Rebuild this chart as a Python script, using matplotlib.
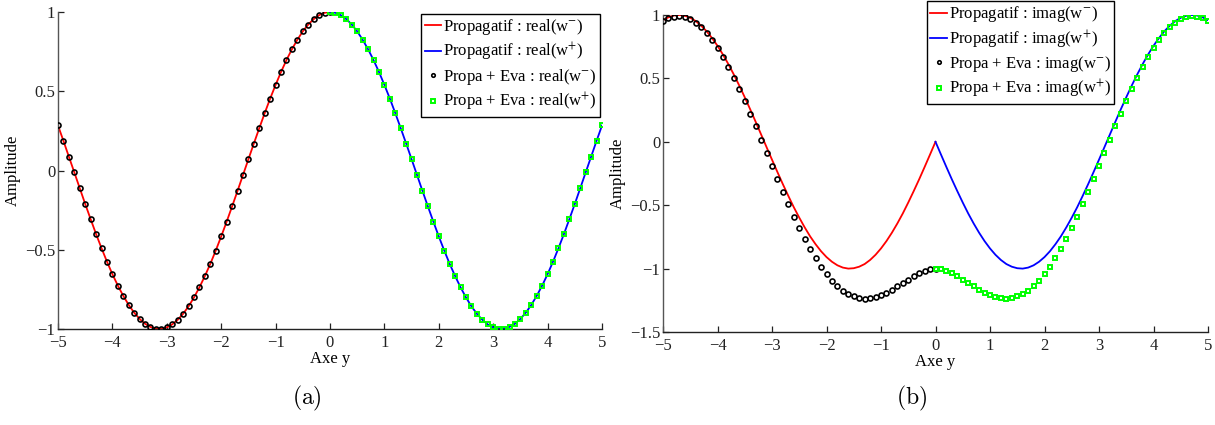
import numpy as np
import matplotlib
matplotlib.use("Agg")
import matplotlib.pyplot as plt

# ---------------- data ----------------
y_neg = np.linspace(-5, 0, 51)
y_pos = np.linspace(0, 5, 51)

# Panel (a): real parts
real_prop_neg = [0.284, 0.187, 0.087, -0.012, -0.112, -0.211, -0.307, -0.401, -0.490, -0.575,
                 -0.654, -0.726, -0.791, -0.848, -0.897, -0.936, -0.967, -0.987, -0.998, -0.999,
                 -0.990, -0.971, -0.942, -0.904, -0.857, -0.801, -0.737, -0.666, -0.589, -0.505,
                 -0.416, -0.323, -0.227, -0.129, -0.029, 0.071, 0.170, 0.267, 0.362, 0.454,
                 0.540, 0.622, 0.697, 0.765, 0.825, 0.878, 0.921, 0.955, 0.980, 0.995, 1.000]
real_prop_pos = [1.000, 0.995, 0.980, 0.955, 0.921, 0.878, 0.825, 0.765, 0.697, 0.622,
                 0.540, 0.454, 0.362, 0.267, 0.170, 0.071, -0.029, -0.129, -0.227, -0.323,
                 -0.416, -0.505, -0.589, -0.666, -0.737, -0.801, -0.857, -0.904, -0.942, -0.971,
                 -0.990, -0.999, -0.998, -0.987, -0.967, -0.936, -0.897, -0.848, -0.791, -0.726,
                 -0.654, -0.575, -0.490, -0.401, -0.307, -0.211, -0.112, -0.012, 0.087, 0.187, 0.284]
real_eva_neg = list(real_prop_neg)
real_eva_pos = list(real_prop_pos)

# Panel (b): imaginary parts
imag_prop_neg = [0.959, 0.982, 0.996, 1.000, 0.994, 0.978, 0.952, 0.916, 0.872, 0.818,
                 0.757, 0.688, 0.612, 0.530, 0.443, 0.351, 0.256, 0.158, 0.058, -0.042,
                 -0.141, -0.239, -0.335, -0.427, -0.516, -0.598, -0.675, -0.746, -0.808, -0.863,
                 -0.909, -0.946, -0.974, -0.992, -1.000, -0.997, -0.985, -0.964, -0.932, -0.891,
                 -0.841, -0.783, -0.717, -0.644, -0.565, -0.479, -0.389, -0.296, -0.199, -0.100, 0.000]
imag_prop_pos = [0.000, -0.100, -0.199, -0.296, -0.389, -0.479, -0.565, -0.644, -0.717, -0.783,
                 -0.841, -0.891, -0.932, -0.964, -0.985, -0.997, -1.000, -0.992, -0.974, -0.946,
                 -0.909, -0.863, -0.808, -0.746, -0.675, -0.598, -0.516, -0.427, -0.335, -0.239,
                 -0.141, -0.042, 0.058, 0.158, 0.256, 0.351, 0.443, 0.530, 0.612, 0.688,
                 0.757, 0.818, 0.872, 0.916, 0.952, 0.978, 0.994, 1.000, 0.996, 0.982, 0.959]
imag_eva_neg = [0.952, 0.975, 0.988, 0.991, 0.984, 0.967, 0.940, 0.902, 0.857, 0.801,
                0.739, 0.668, 0.590, 0.505, 0.416, 0.321, 0.223, 0.121, 0.017, -0.087,
                -0.191, -0.294, -0.396, -0.494, -0.590, -0.680, -0.766, -0.846, -0.919, -0.985,
                -1.044, -1.096, -1.139, -1.175, -1.202, -1.220, -1.232, -1.237, -1.233, -1.224,
                -1.209, -1.190, -1.166, -1.141, -1.114, -1.086, -1.059, -1.037, -1.018, -1.005, -1.000]
imag_eva_pos = [-1.000, -1.005, -1.018, -1.037, -1.059, -1.086, -1.114, -1.141, -1.166, -1.190,
                -1.209, -1.224, -1.233, -1.237, -1.232, -1.220, -1.202, -1.175, -1.139, -1.096,
                -1.044, -0.985, -0.919, -0.846, -0.766, -0.680, -0.590, -0.494, -0.396, -0.294,
                -0.191, -0.087, 0.017, 0.121, 0.223, 0.321, 0.416, 0.505, 0.590, 0.668,
                0.739, 0.801, 0.857, 0.902, 0.940, 0.967, 0.984, 0.991, 0.988, 0.975, 0.952]

xticks = [-5, -4, -3, -2, -1, 0, 1, 2, 3, 4, 5]
yticks_a = [-1, -0.5, 0, 0.5, 1]
yticks_b = [-1.5, -1, -0.5, 0, 0.5, 1]

labels_a = ["Propagatif : real(w$^{-}$)", "Propagatif : real(w$^{+}$)",
            "Propa + Eva : real(w$^{-}$)", "Propa + Eva : real(w$^{+}$)"]
labels_b = ["Propagatif : imag(w$^{-}$)", "Propagatif : imag(w$^{+}$)",
            "Propa + Eva : imag(w$^{-}$)", "Propa + Eva : imag(w$^{+}$)"]

# ---------------- style ----------------
plt.rcParams['font.family'] = ['Liberation Serif', 'DejaVu Serif']
plt.rcParams['mathtext.fontset'] = 'stix'
plt.rcParams['font.size'] = 11.5

fig = plt.figure(figsize=(12.15, 4.25), dpi=100)
W, H = 1215, 425

def make_axes(left, top, right, bottom):
    return fig.add_axes([left / W, 1 - bottom / H, (right - left) / W, (bottom - top) / H])

ax_a = make_axes(58, 12, 602, 329)
ax_b = make_axes(663, 15, 1208, 332)


def style(ax, yticks, ylim):
    ax.set_xlim(-5, 5)
    ax.set_ylim(*ylim)
    ax.set_xticks(xticks)
    ax.set_yticks(yticks)
    ax.set_yticklabels([f"{v:g}".replace("-", "\u2212") for v in yticks])
    ax.set_xticklabels([f"{v:g}".replace("-", "\u2212") for v in xticks])
    for s in ("top", "right"):
        ax.spines[s].set_visible(False)
    ax.spines["left"].set_color("#555555")
    ax.spines["bottom"].set_color("#222222")
    ax.spines["left"].set_linewidth(1.0)
    ax.spines["bottom"].set_linewidth(1.0)
    ax.tick_params(direction="in", length=4, width=0.9, labelsize=12, colors="#222222")
    ax.tick_params(axis="y", pad=2)
    ax.tick_params(axis="x", pad=4)
    ax.set_xlabel("Axe y", fontsize=12, labelpad=0)
    ax.set_ylabel("Amplitude", fontsize=12, labelpad=3)


def draw(ax, pn, pp, en, ep, labels, anchor):
    ax.plot(y_neg, pn, color="#ff0000", lw=1.3, label=labels[0], zorder=2)
    ax.plot(y_pos, pp, color="#0000ff", lw=1.3, label=labels[1], zorder=2)
    ax.plot(y_neg, en, ls="none", marker="o", ms=3.6, mfc="none", mec="black", mew=1.2,
            label=labels[2], zorder=3)
    ax.plot(y_pos, ep, ls="none", marker="s", ms=3.2, mfc="none", mec="#00ff00", mew=1.4,
            label=labels[3], zorder=3)
    leg = ax.legend(loc="upper right", bbox_to_anchor=anchor, borderaxespad=0,
                    fancybox=False, framealpha=1, edgecolor="black", fontsize=12,
                    handlelength=1.0, handletextpad=0.1, borderpad=0.2,
                    labelspacing=0.22, markerscale=0.7)
    leg.get_frame().set_linewidth(1.0)
    return leg


style(ax_a, yticks_a, (-1, 1))
style(ax_b, yticks_b, (-1.5, 1))
draw(ax_a, real_prop_neg, real_prop_pos, real_eva_neg, real_eva_pos, labels_a, (0.996, 0.994))
draw(ax_b, imag_prop_neg, imag_prop_pos, imag_eva_neg, imag_eva_pos, labels_b, (0.8275, 1.044))

fig.text(307 / W, 1 - 398 / H, r"$\mathrm{(a)}$", math_fontfamily="cm", fontsize=17,
         ha="center", va="center")
fig.text(912 / W, 1 - 398 / H, r"$\mathrm{(b)}$", math_fontfamily="cm", fontsize=17,
         ha="center", va="center")

fig.savefig("out.png", dpi=100)
